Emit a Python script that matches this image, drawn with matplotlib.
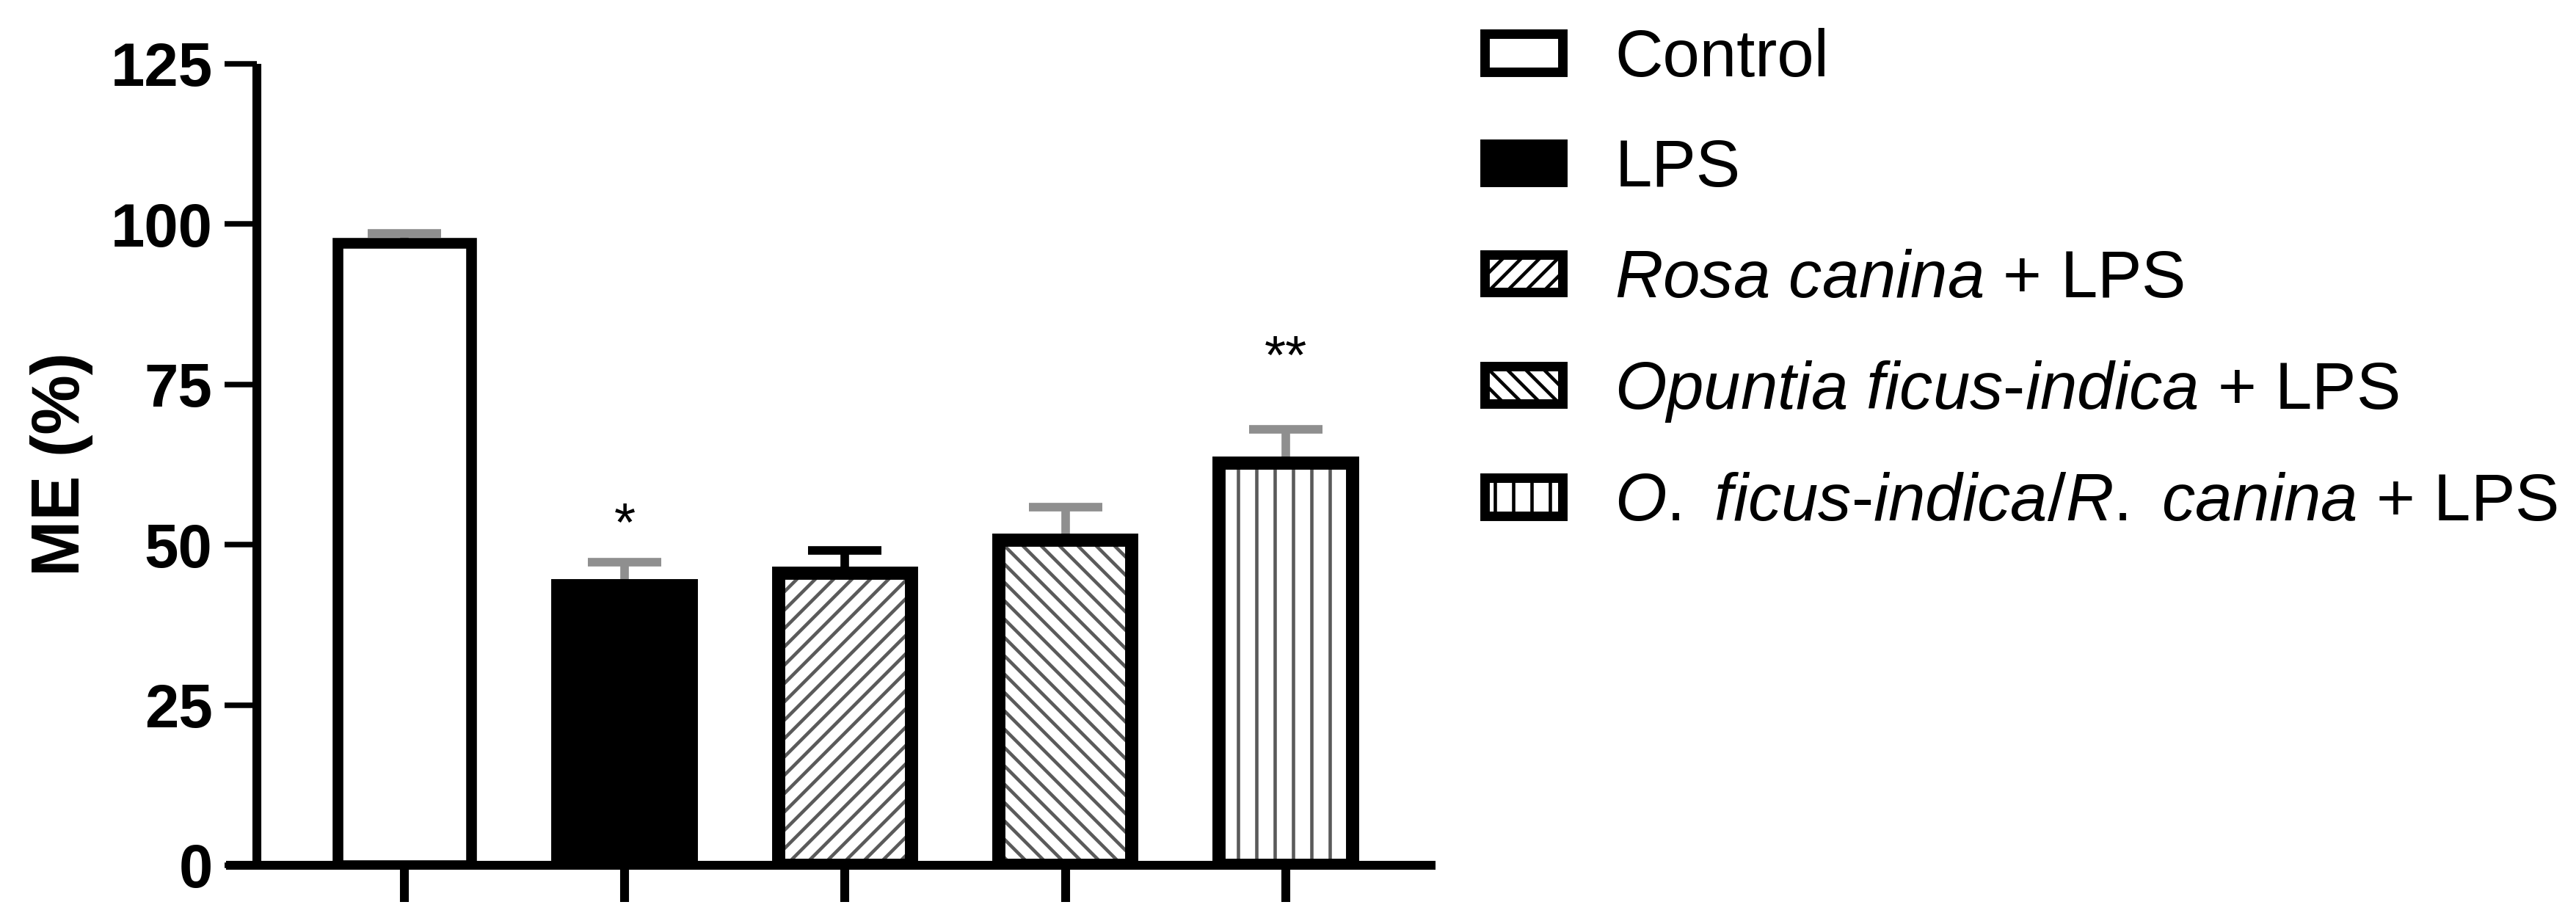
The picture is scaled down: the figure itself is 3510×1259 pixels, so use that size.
import numpy as np
import matplotlib
matplotlib.use("Agg")
import matplotlib.pyplot as plt
from matplotlib.patches import Patch

# ---------------- data ----------------
categories = ["Control", "LPS", "Rosa canina + LPS",
              "Opuntia ficus-indica + LPS", "O. ficus-indica/R. canina + LPS"]
legend_labels = ["Control", "LPS",
                 r"$\mathit{Rosa\ canina}$ + LPS",
                 r"$\mathit{Opuntia\ ficus}$-$\mathit{indica}$ + LPS",
                 r"$\mathit{O.\ ficus}$-$\mathit{indica/R.\ canina}$ + LPS"]
means = [97.0, 43.6, 45.5, 50.7, 62.7]
errors = [1.5, 3.7, 3.6, 5.1, 5.3]
sig_labels = ["", "*", "", "", "**"]
sig_y = [None, 50.6, None, None, 76.7]
yticks = [0, 25, 50, 75, 100, 125]
ytick_labels = ["0", "25", "50", "75", "100", "125"]

# ---------------- style ----------------
plt.rcParams["font.family"] = ["Liberation Sans", "DejaVu Sans"]
plt.rcParams["mathtext.fontset"] = "custom"
plt.rcParams["mathtext.rm"] = "Liberation Sans"
plt.rcParams["mathtext.it"] = "Liberation Sans:italic"
plt.rcParams["mathtext.bf"] = "Liberation Sans:bold"
plt.rcParams["hatch.linewidth"] = 2.2

DPI = 150
W, H = 3510, 1259
fig = plt.figure(figsize=(W / DPI, H / DPI), dpi=DPI)
ax = fig.add_axes([308 / W, 80 / H, 1648 / W, (1179 - 86.7) / H])

x = np.arange(len(categories))
width = 0.605
face = ["white", "black", "white", "white", "white"]
hatches = [None, None, "//", "\\\\", "|"]
edge_lw = [7.0, 8.6, 8.6, 8.6, 8.6]
err_colors = ["#8f8f8f", "#8f8f8f", "black", "#8f8f8f", "#8f8f8f"]
hatch_gray = "#5a5a5a"

for i in range(len(categories)):
    # error bars (upper only) behind the bars
    ax.errorbar(x[i], means[i], yerr=[[0], [errors[i]]], fmt="none",
                ecolor=err_colors[i], elinewidth=5.6, capsize=24,
                capthick=5.6, zorder=1)
    if hatches[i] is not None:
        ax.bar(x[i], means[i], width, color="white", edgecolor=hatch_gray,
               hatch=hatches[i], linewidth=0, zorder=2)
        ax.bar(x[i], means[i], width, fill=False, edgecolor="black",
               linewidth=edge_lw[i], zorder=3)
    else:
        ax.bar(x[i], means[i], width, color=face[i], edgecolor="black",
               linewidth=edge_lw[i], zorder=3)
    if sig_labels[i]:
        ax.text(x[i], sig_y[i], sig_labels[i], ha="center", va="baseline",
                fontsize=36, color="black", zorder=4)

ax.set_xlim(-0.809, 4.68)
ax.set_ylim(0, 125)

for s in ["top", "right"]:
    ax.spines[s].set_visible(False)
ax.spines["left"].set_position(("axes", 0.0255))
ax.spines["left"].set_linewidth(5.8)
ax.spines["bottom"].set_linewidth(5.8)
ax.spines["left"].set_capstyle("butt")
ax.spines["bottom"].set_capstyle("butt")

ax.tick_params(axis="y", length=21, width=3.6, pad=8, direction="out",
               labelsize=40)
ax.tick_params(axis="x", length=24, width=5.8, direction="out")

ax.set_xticks(x)
ax.set_xticklabels([""] * len(x))
ax.set_yticks(yticks)
ax.set_yticklabels(ytick_labels, fontsize=40, fontweight="bold")

ax.set_ylabel("ME (%)", fontsize=44, fontweight="bold")
ax.yaxis.set_label_coords(-0.11, 0.5)

# ---------------- legend ----------------
handles = []
leg_hatch = [None, None, "//", "\\\\", "|"]
for i in range(len(categories)):
    handles.append(Patch(facecolor=face[i], edgecolor="black",
                         hatch=leg_hatch[i], linewidth=6.2))
fig.legend(handles, legend_labels, loc="upper left",
           bbox_to_anchor=(2022.5 / W, 1 - 38 / H), frameon=False,
           borderpad=0, borderaxespad=0, handlelength=1.17,
           handleheight=0.5, handletextpad=0.79, labelspacing=0.72,
           fontsize=43.5)

fig.savefig("out.png", dpi=DPI, facecolor="white")
